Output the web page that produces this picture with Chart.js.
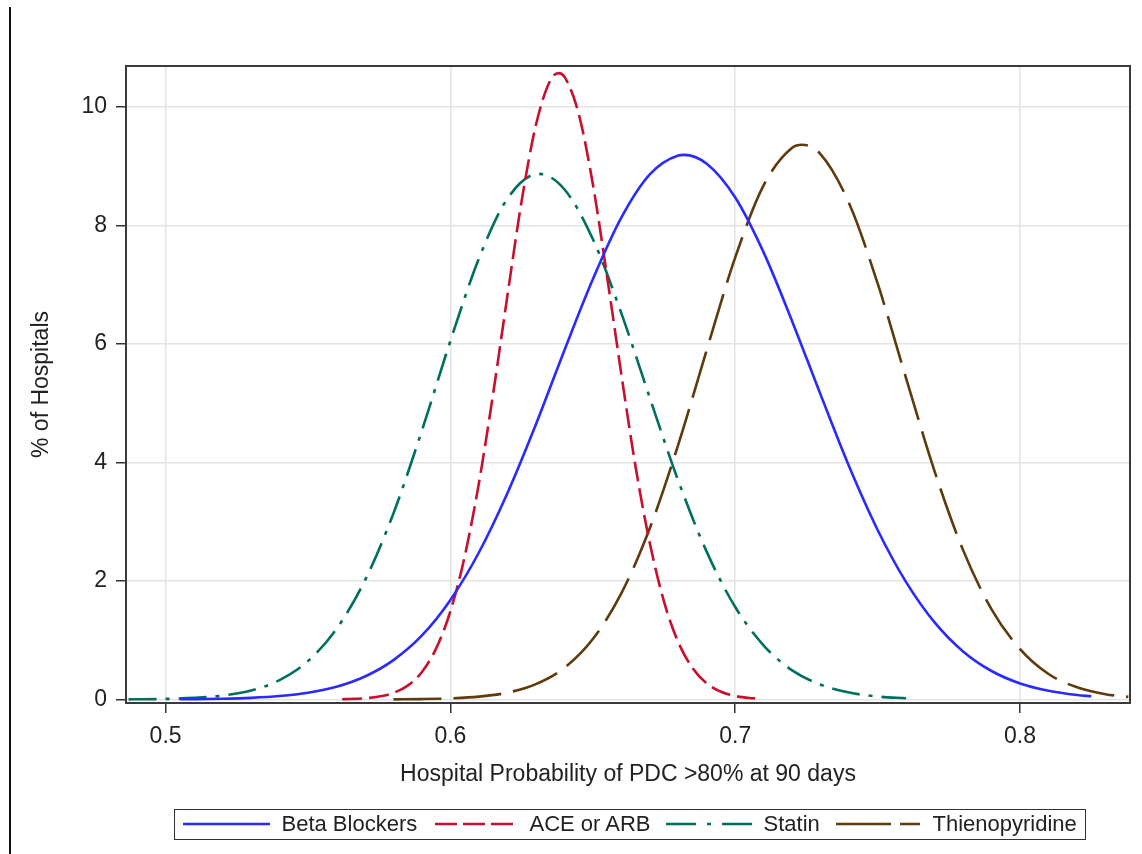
<!DOCTYPE html>
<html>
<head>
<meta charset="utf-8">
<script src="https://cdn.jsdelivr.net/npm/chart.js@4.4.1/dist/chart.umd.min.js"></script>
<style>
html,body{margin:0;padding:0;background:#fff;}
#wrap{position:relative;width:1142px;height:854px;overflow:hidden;background:#fff;}
#c{position:absolute;left:0;top:0;}
#vline{position:absolute;left:9px;top:7px;width:2px;height:847px;background:#111;}
#legend{position:absolute;left:174px;top:809px;width:912px;height:31px;border:1.5px solid #333;box-sizing:border-box;
  font-family:"Liberation Sans",Arial,sans-serif;font-size:22px;color:#222;}
#legend svg{position:absolute;top:0;}
#legend span{position:absolute;white-space:nowrap;line-height:28px;top:0;}
</style>
</head>
<body>
<div id="wrap">
  <canvas id="c" width="1142" height="854"></canvas>
  <div id="vline"></div>
  <div id="legend"></div>
</div>
<script>
// ---- data ----
const seriesNames = ['Beta Blockers', 'ACE or ARB', 'Statin', 'Thienopyridine'];
const xTicks = [0.5, 0.6, 0.7, 0.8];
const yTicks = [0, 2, 4, 6, 8, 10];

const betaX = [0.505,0.51,0.52,0.53,0.54,0.55,0.56,0.57,0.58,0.59,0.60,0.61,0.62,0.63,0.64,0.65,0.66,0.67,0.68,0.682,0.69,0.70,0.71,0.72,0.73,0.74,0.75,0.76,0.77,0.78,0.79,0.80,0.81,0.82,0.825];
const betaY = [0.003,0.005,0.012,0.027,0.057,0.113,0.214,0.387,0.664,1.08,1.68,2.48,3.48,4.64,5.89,7.09,8.13,8.86,9.18,9.19,9.04,8.47,7.54,6.38,5.14,3.93,2.86,1.98,1.30,0.81,0.48,0.27,0.147,0.075,0.053];

const aceX = [0.562,0.565,0.57,0.575,0.58,0.585,0.59,0.595,0.60,0.605,0.61,0.615,0.62,0.625,0.63,0.635,0.638,0.64,0.645,0.65,0.655,0.66,0.665,0.67,0.675,0.68,0.685,0.69,0.695,0.70,0.705,0.707];
const aceY = [0.004,0.008,0.020,0.049,0.110,0.234,0.464,0.861,1.49,2.41,3.65,5.16,6.81,8.41,9.69,10.44,10.57,10.51,9.89,8.70,7.14,5.49,3.93,2.64,1.65,0.966,0.529,0.270,0.129,0.058,0.024,0.018];

const statinX = [0.487,0.49,0.50,0.51,0.52,0.53,0.54,0.55,0.56,0.57,0.58,0.59,0.60,0.61,0.62,0.631,0.64,0.65,0.66,0.67,0.68,0.69,0.70,0.71,0.72,0.73,0.74,0.75,0.76];
const statinY = [0.002,0.003,0.009,0.026,0.065,0.151,0.326,0.647,1.19,2.01,3.14,4.54,6.05,7.44,8.45,8.87,8.61,7.77,6.52,5.09,3.69,2.49,1.56,0.91,0.49,0.248,0.116,0.050,0.020];

const thienoX = [0.58,0.59,0.60,0.61,0.62,0.63,0.64,0.65,0.66,0.67,0.68,0.69,0.70,0.71,0.72,0.7235,0.73,0.74,0.75,0.76,0.77,0.78,0.79,0.80,0.81,0.82,0.83,0.838];
const thienoY = [0.002,0.006,0.018,0.047,0.115,0.259,0.534,1.02,1.79,2.89,4.30,5.90,7.46,8.68,9.31,9.36,9.20,8.37,7.02,5.42,3.85,2.52,1.52,0.85,0.43,0.205,0.089,0.043];

// ---- styles ----
const FONT = '"Liberation Sans", Arial, sans-serif';
const colors = ['#2a2aff', '#c8102e', '#00705e', '#5e3a0c'];
const dashes = [[], [20, 7], [28, 9, 4, 9], [48, 12]];
const legendDashes = ['', '22 6', '30 11 4 11', '55 9'];

const xsAll = [betaX, aceX, statinX, thienoX];
const ysAll = [betaY, aceY, statinY, thienoY];

const datasets = seriesNames.map((name, i) => ({
  label: name,
  data: xsAll[i].map((x, k) => ({ x: x, y: ysAll[i][k] })),
  borderColor: colors[i],
  backgroundColor: colors[i],
  borderWidth: 2.6,
  borderDash: dashes[i],
  pointRadius: 0,
  fill: false,
  cubicInterpolationMode: 'monotone'
}));

const framePlugin = {
  id: 'frame',
  afterDraw(chart) {
    const a = chart.chartArea, ctx = chart.ctx;
    ctx.save();
    ctx.strokeStyle = '#3a3a3a';
    ctx.lineWidth = 2;
    ctx.strokeRect(a.left, a.top, a.right - a.left, a.bottom - a.top);
    ctx.restore();
  }
};

new Chart(document.getElementById('c'), {
  type: 'line',
  data: { datasets: datasets },
  plugins: [framePlugin],
  options: {
    responsive: false,
    animation: false,
    layout: { padding: { left: 0, right: 12, top: 66, bottom: 66 } },
    plugins: { legend: { display: false }, tooltip: { enabled: false } },
    scales: {
      x: {
        type: 'linear',
        min: 0.4861, max: 0.8386,
        afterBuildTicks: s => { s.ticks = xTicks.map(v => ({ value: v })); },
        afterFit: s => { s.height = 85; },
        border: { display: false },
        grid: { color: '#e3e3e3', lineWidth: 1.5, tickColor: '#333', tickLength: 10, tickWidth: 1.5 },
        ticks: { font: { family: FONT, size: 23 }, color: '#222', padding: 10, maxRotation: 0,
                 callback: v => Number(v).toFixed(1) },
        title: { display: true, text: 'Hospital Probability of PDC >80% at 90 days',
                 font: { family: FONT, size: 23 }, color: '#222', padding: { top: 0, bottom: 0 } }
      },
      y: {
        type: 'linear',
        min: -0.06, max: 10.69,
        afterBuildTicks: s => { s.ticks = yTicks.map(v => ({ value: v })); },
        afterFit: s => { s.width = 126; },
        border: { display: false },
        grid: { color: '#e3e3e3', lineWidth: 1.5, tickColor: '#333', tickLength: 10, tickWidth: 1.5 },
        ticks: { font: { family: FONT, size: 23 }, color: '#222', padding: 9,
                 callback: v => String(v) },
        title: { display: true, text: '% of Hospitals',
                 font: { family: FONT, size: 23 }, color: '#222', padding: { top: 28, bottom: 0 } }
      }
    }
  }
});

// ---- HTML legend ----
const legendLayout = [
  { line: [183, 270], text: 282 },
  { line: [435, 513], text: 530 },
  { line: [666, 752], text: 764 },
  { line: [836, 920], text: 933 }
];
const leg = document.getElementById('legend');
const boxLeft = 174 + 1.5;
seriesNames.forEach((name, i) => {
  const L = legendLayout[i];
  const w = L.line[1] - L.line[0];
  const svg = document.createElementNS('http://www.w3.org/2000/svg', 'svg');
  svg.setAttribute('width', w); svg.setAttribute('height', 28);
  svg.style.left = (L.line[0] - boxLeft) + 'px';
  const ln = document.createElementNS('http://www.w3.org/2000/svg', 'line');
  ln.setAttribute('x1', 0); ln.setAttribute('x2', w);
  ln.setAttribute('y1', 14); ln.setAttribute('y2', 14);
  ln.setAttribute('stroke', colors[i]); ln.setAttribute('stroke-width', 2.6);
  if (legendDashes[i]) ln.setAttribute('stroke-dasharray', legendDashes[i]);
  svg.appendChild(ln);
  leg.appendChild(svg);
  const sp = document.createElement('span');
  sp.textContent = name;
  sp.style.left = (L.text - boxLeft) + 'px';
  leg.appendChild(sp);
});
</script>
</body>
</html>
